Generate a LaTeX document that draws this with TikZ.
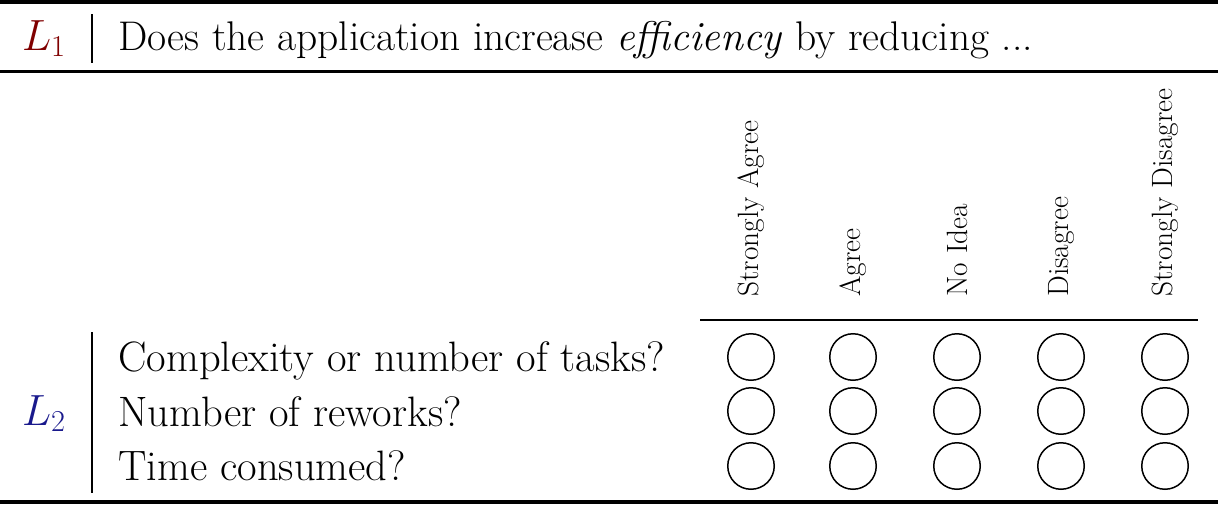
\documentclass[tikz,border=0pt]{standalone}
\usepackage{amsmath}
\usepackage{tikz}

\definecolor{levelone}{RGB}{128,0,0}
\definecolor{leveltwo}{RGB}{25,25,140}

\begin{document}
\begin{tikzpicture}[x=0.02cm,y=-0.02cm,
        txt/.style={inner sep=0pt,font=\fontsize{24.2}{28}\selectfont},
        hdr/.style={inner sep=0pt,rotate=90,anchor=west,font=\fontsize{16.7}{20}\selectfont},
        bubble/.style={circle,draw,line width=0.85pt,minimum size=0.93cm,inner sep=0pt}]

        \useasboundingbox (0,0) rectangle (1218,505);

        % Rules of the table
        \draw[line width=2.3pt] (0,2) -- (1218,2);
        \draw[line width=1.4pt] (0,71.5) -- (1218,71.5);
        \draw[line width=0.75pt] (700,320) -- (1198,320);
        \draw[line width=2.3pt] (0,502) -- (1218,502);

        % Level 1 question
        \node[txt,anchor=base,text=levelone] (lone) at (44,50) {$L_1$};
        \draw[line width=0.85pt] (92,14) -- (92,63);
        \node[txt,anchor=base west,font=\fontsize{23.6}{28}\selectfont] (question) at (118,50) {Does the application increase \emph{efficiency} by reducing ...};

        % Answer scale (rotated headers)
        \node[hdr] (sagree) at (751,297) {Strongly Agree};
        \node[hdr] (agree) at (853,297) {Agree};
        \node[hdr] (noidea) at (957,297) {No Idea};
        \node[hdr] (disagree) at (1061,297) {Disagree};
        \node[hdr] (sdisagree) at (1165,297) {Strongly Disagree};

        % Level 2 items
        \node[txt,anchor=base,text=leveltwo] (ltwo) at (44,425) {$L_2$};
        \draw[line width=0.85pt] (92,332) -- (92,493);
        \node[txt,anchor=base west] (tasks) at (118,371) {Complexity or number of tasks?};
        \node[txt,anchor=base west] (reworks) at (118,426) {Number of reworks?};
        \node[txt,anchor=base west] (time) at (118,480) {Time consumed?};

        % Answer bubbles, row 1
        \node[bubble] (b11) at (751,357) {};
        \node[bubble] (b12) at (853,357) {};
        \node[bubble] (b13) at (957,357) {};
        \node[bubble] (b14) at (1061,357) {};
        \node[bubble] (b15) at (1165,357) {};

        % Answer bubbles, row 2
        \node[bubble] (b21) at (751,411) {};
        \node[bubble] (b22) at (853,411) {};
        \node[bubble] (b23) at (957,411) {};
        \node[bubble] (b24) at (1061,411) {};
        \node[bubble] (b25) at (1165,411) {};

        % Answer bubbles, row 3
        \node[bubble] (b31) at (751,466) {};
        \node[bubble] (b32) at (853,466) {};
        \node[bubble] (b33) at (957,466) {};
        \node[bubble] (b34) at (1061,466) {};
        \node[bubble] (b35) at (1165,466) {};

\end{tikzpicture}
\end{document}
